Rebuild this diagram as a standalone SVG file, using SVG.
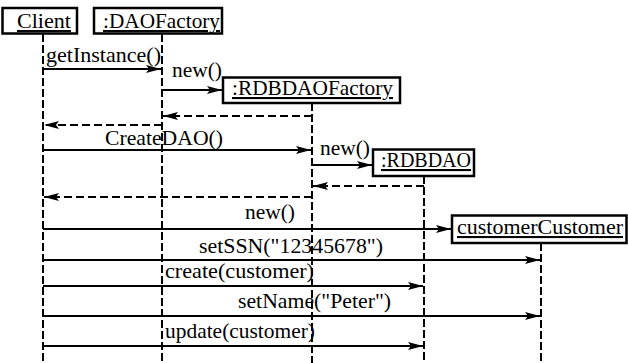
<svg xmlns="http://www.w3.org/2000/svg" width="628" height="363" viewBox="0 0 628 363">
<style>
  text { font-family: "Liberation Serif", "Times New Roman", Times, "DejaVu Serif", serif; font-size: 21px; fill: #000; }
  .box { fill: #fff; stroke: #000; stroke-width: 2.5; }
  .name { text-decoration: underline; }
  .life { stroke: #000; stroke-width: 2; stroke-dasharray: 8 3; fill: none; }
  .msg { stroke: #000; stroke-width: 2; fill: none; marker-end: url(#head); }
  .ret { stroke: #000; stroke-width: 2; stroke-dasharray: 8 4; fill: none; marker-end: url(#head); }
</style>
<defs>
  <marker id="head" markerUnits="userSpaceOnUse" markerWidth="16" markerHeight="10" viewBox="-15 -5 16 10" refX="0" refY="0" orient="auto">
    <path d="M0,0 L-15,-4 L-12,0 L-15,4 Z" fill="#000"/>
  </marker>
</defs>
<rect width="628" height="363" fill="#fff"/>

<g id="lifelines">
  <line class="life" x1="43" y1="34" x2="43" y2="363"/>
  <line class="life" x1="162" y1="34" x2="162" y2="363"/>
  <line class="life" x1="312" y1="103" x2="312" y2="363"/>
  <line class="life" x1="424" y1="176" x2="424" y2="363"/>
  <line class="life" x1="541" y1="243" x2="541" y2="363"/>
</g>

<g id="connectors">
  <line class="msg" x1="43" y1="69" x2="161" y2="69"/>
  <text x="46" y="62" textLength="115" lengthAdjust="spacingAndGlyphs">getInstance()</text>
  <line class="msg" x1="162" y1="90" x2="222" y2="90"/>
  <text x="172" y="77" textLength="50" lengthAdjust="spacingAndGlyphs">new()</text>
  <line class="ret" x1="312" y1="116" x2="163" y2="116"/>
  <line class="ret" x1="162" y1="125" x2="44" y2="125"/>
  <line class="msg" x1="43" y1="150" x2="311" y2="150"/>
  <text x="105" y="145" textLength="118" lengthAdjust="spacingAndGlyphs">CreateDAO()</text>
  <line class="msg" x1="312" y1="165" x2="372" y2="165"/>
  <text x="320" y="155" textLength="50" lengthAdjust="spacingAndGlyphs">new()</text>
  <line class="ret" x1="424" y1="186" x2="313" y2="186"/>
  <line class="ret" x1="312" y1="197" x2="44" y2="197"/>
  <line class="msg" x1="43" y1="229" x2="451" y2="229"/>
  <text x="245" y="219" textLength="50" lengthAdjust="spacingAndGlyphs">new()</text>
  <line class="msg" x1="43" y1="260" x2="540" y2="260"/>
  <text x="199" y="253" textLength="184" lengthAdjust="spacingAndGlyphs">setSSN("12345678")</text>
  <line class="msg" x1="43" y1="286" x2="423" y2="286"/>
  <text x="165" y="278" textLength="149" lengthAdjust="spacingAndGlyphs">create(customer)</text>
  <line class="msg" x1="43" y1="316" x2="540" y2="316"/>
  <text x="238" y="308" textLength="153" lengthAdjust="spacingAndGlyphs">setName("Peter")</text>
  <line class="msg" x1="43" y1="346" x2="423" y2="346"/>
  <text x="165" y="338" textLength="150" lengthAdjust="spacingAndGlyphs">update(customer)</text>
</g>

<g id="client">
  <rect class="box" x="2.5" y="8" width="74.5" height="25.5"/>
  <text class="name" x="17" y="28" textLength="54" lengthAdjust="spacingAndGlyphs">Client</text>
</g>
<g id="daofactory">
  <rect class="box" x="94" y="8" width="128" height="25.5"/>
  <text class="name" x="103" y="28" textLength="117" lengthAdjust="spacingAndGlyphs">:DAOFactory</text>
</g>
<g id="rdbdaofactory">
  <rect class="box" x="223" y="77.5" width="177" height="25.5"/>
  <text class="name" x="232" y="95" textLength="161" lengthAdjust="spacingAndGlyphs">:RDBDAOFactory</text>
</g>
<g id="rdbdao">
  <rect class="box" x="373" y="149.5" width="101" height="26.5"/>
  <text class="name" x="381" y="167" textLength="90" lengthAdjust="spacingAndGlyphs">:RDBDAO</text>
</g>
<g id="customer">
  <rect class="box" x="452" y="215.5" width="174.5" height="27.5"/>
  <text class="name" x="457" y="234" textLength="166" lengthAdjust="spacingAndGlyphs">customerCustomer</text>
</g>
</svg>
